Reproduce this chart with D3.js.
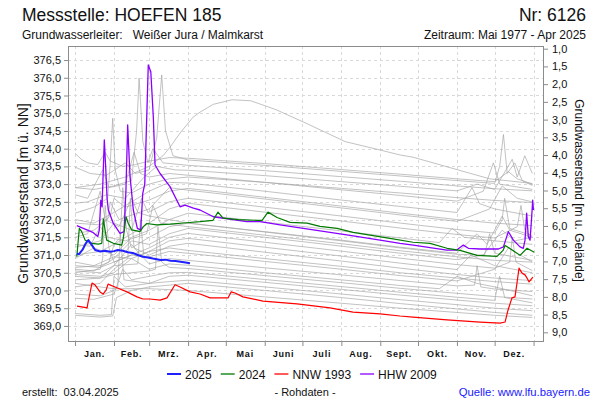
<!DOCTYPE html>
<html><head><meta charset="utf-8">
<script src="https://cdn.jsdelivr.net/npm/d3@7"></script>
<style>body{margin:0;background:#fff}svg{display:block;font-family:Arial,"Liberation Sans",sans-serif}</style>
</head><body><svg id="c" width="600" height="400"></svg>
<script>
// ---------- data ----------
const groundLevel = 377.82;
const monthStarts = [0,31,59,90,120,151,181,212,243,273,304,334,365];
const monthLabels = ["Jan.","Feb.","Mrz.","Apr.","Mai","Juni","Juli","Aug.","Sept.","Okt.","Nov.","Dez."];
const leftTicks = [369.0,369.5,370.0,370.5,371.0,371.5,372.0,372.5,373.0,373.5,374.0,374.5,375.0,375.5,376.0,376.5];
const rightTicks = [1.0,1.5,2.0,2.5,3.0,3.5,4.0,4.5,5.0,5.5,6.0,6.5,7.0,7.5,8.0,8.5,9.0];

const series2025 = [[1.5,371.05],[3,371.02],[6,371.15],[8.5,371.33],[10.6,371.42],[13,371.3],[16,371.14],[20,371.1],[24,371.12],[28,371.09],[31,371.11],[34,371.14],[38,371.12],[42,371.08],[46,371.06],[50,371.0],[54,370.95],[58,370.93],[62,370.9],[68,370.86],[72,370.87],[76,370.84],[80,370.83],[84,370.81],[88,370.79],[91.5,370.77]];

const series2024 = [[1.4,370.95],[3.4,371.75],[5.3,371.66],[8,371.42],[13.3,371.33],[18.5,371.31],[21.3,371.33],[22.5,372.02],[23.9,371.71],[25.2,371.42],[30.5,371.33],[37.2,371.28],[38.4,371.47],[40.6,372.08],[42.4,371.89],[45.1,371.71],[51.7,371.66],[54.4,371.8],[57.1,371.89],[65,371.85],[75.6,371.87],[88.9,371.91],[99.5,371.94],[109.8,371.98],[113.8,372.21],[117.8,372.04],[130,372.0],[144.9,371.98],[148.9,371.98],[153.6,372.21],[160.8,372.06],[171.2,371.92],[184.7,371.9],[195,371.81],[208.6,371.75],[221.3,371.64],[234.8,371.56],[250.7,371.47],[269,371.36],[282.6,371.33],[296.1,371.19],[306.5,371.13],[320,370.99],[335.9,370.96],[340.7,371.13],[342.3,371.27],[348.6,371.13],[354.2,370.99],[359.8,371.19],[365.5,371.08]];

const seriesNNW1993 = [[1.6,369.56],[6.4,369.53],[9.6,369.51],[10.3,369.65],[13.5,370.21],[15.9,370.16],[19.9,369.96],[22.3,369.9],[24.7,370.01],[26.3,370.18],[31.8,370.1],[41.4,369.96],[49.3,369.82],[54.1,369.76],[59.7,369.76],[67.7,369.73],[73.2,369.79],[79.6,370.16],[83.6,370.1],[91.5,369.96],[99.5,369.9],[107.5,369.79],[121.8,369.79],[124.2,369.96],[127.4,369.93],[133.7,369.82],[149.6,369.7],[176.7,369.62],[203,369.51],[221.3,369.39],[242.8,369.34],[258.7,369.28],[269,369.25],[296.1,369.17],[322.4,369.11],[338.3,369.08],[342.3,369.11],[344.7,369.45],[347.8,369.79],[350.2,369.82],[351.8,370.21],[353.4,370.63],[355.8,370.49],[358.2,370.44],[359.8,370.35],[361.4,370.24],[363.8,370.35],[364.5,370.38]];

const seriesHHW2009 = [[1.4,371.83],[6.6,371.75],[14.6,371.63],[18.1,371.52],[19.3,371.7],[20.5,372.55],[21.5,372.36],[23.3,374.25],[24.5,373.4],[25.5,372.6],[26.5,372.27],[30.5,371.89],[35.8,371.61],[39,371.66],[40.5,372.8],[41.9,374.67],[43.8,373.21],[46.4,372.27],[49.6,371.75],[52.3,371.71],[53.9,372.74],[55.5,373.0],[58.3,376.36],[60.3,376.17],[62.3,374.9],[63.7,373.54],[67.7,373.3],[75.6,372.93],[83.6,372.36],[87.6,372.41],[94.2,372.32],[99.5,372.27],[110.1,372.08],[136.7,371.94],[147.3,371.94],[163.2,371.85],[189.7,371.71],[216.3,371.57],[242.8,371.42],[258.7,371.33],[269.3,371.28],[295.9,371.14],[303.8,371.14],[309.1,371.28],[313.1,371.19],[322.4,371.17],[337,371.17],[341,371.23],[344.9,371.66],[348.9,371.42],[354.2,371.23],[356.8,371.19],[358.2,371.42],[359.5,372.18],[360.8,371.52],[362.2,371.42],[363.5,372.08],[364.3,372.55],[364.9,372.27]];

const historicYears = [
 [[0,372.9],[20,373.0],[40,373.2],[59,373.5],[70,373.8],[75.6,374.04],[83.6,374.44],[94,374.89],[99.5,375.03],[110,375.25],[125,375.38],[140,375.35],[160,375.1],[185,374.7],[215,374.2],[243,373.96],[259,373.82],[269,373.76],[300,373.45],[330,373.15],[364,373.02]],
 [[0,373.87],[5,373.7],[10,373.6],[18,373.55],[24,373.9],[28,373.65],[38,373.5],[48,373.55],[59,373.65],[75,373.75],[90,373.73],[151,373.58],[212,373.41],[259,373.28],[304,373.15],[334,373.07],[345,373.35],[352,373.15],[364,373.0]],
 [[0,373.48],[12,373.3],[25,373.25],[40,373.6],[48,373.3],[59,373.4],[65,374.3],[69,376.08],[72,374.5],[78,373.8],[90,373.68],[151,373.53],[212,373.36],[259,373.23],[304,373.1],[334,373.02],[338,373.5],[341,374.4],[344,373.3],[350,373.6],[356,373.1],[364,372.96]],
 [[0,372.9],[15,372.85],[31,372.95],[45,373.1],[49,374.5],[51,375.99],[54,374.2],[58,373.6],[62,374.0],[70,373.6],[90,373.53],[151,373.38],[212,373.21],[259,373.08],[304,372.95],[334,372.87],[364,372.81]],
 [[0,372.46],[10,372.5],[25,372.7],[40,372.6],[55,373.2],[65,373.5],[80,373.4],[90,373.39],[151,373.24],[212,373.07],[259,372.94],[304,372.81],[320,373.0],[334,372.85],[348,373.7],[352,373.2],[358,373.8],[364,373.3]],
 [[0,372.18],[15,372.35],[26,372.6],[28,373.6],[30,374.86],[32,373.4],[36,372.8],[45,372.75],[59,373.0],[75,373.15],[90,373.2],[151,373.05],[212,372.88],[259,372.75],[304,372.62],[334,372.54],[364,372.48]],
 [[0,372.0],[15,371.9],[31,372.2],[45,372.5],[59,372.8],[75,373.05],[90,373.03],[151,372.8],[212,372.55],[259,372.37],[304,372.2],[316,372.9],[322,372.45],[334,372.3],[364,372.1]],
 [[0,371.9],[20,371.85],[28,372.1],[31,372.6],[40,372.35],[59,372.55],[75,372.8],[90,372.88],[151,372.63],[212,372.38],[259,372.18],[304,372.0],[334,371.9],[364,371.83]],
 [[0,371.6],[15,371.7],[26,372.0],[28,372.5],[35,372.0],[59,372.3],[75,372.9],[90,372.83],[151,372.58],[212,372.33],[259,372.13],[304,371.95],[330,372.3],[340,372.95],[352,372.6],[364,372.5]],
 [[0,371.22],[20,371.4],[31,371.9],[45,371.7],[53,372.6],[58,372.2],[75,372.5],[90,372.6],[151,372.35],[212,372.1],[259,371.9],[304,371.72],[334,371.62],[340,372.0],[342,372.6],[346,371.75],[364,371.55]],
 [[0,371.0],[20,371.1],[31,371.3],[45,371.6],[59,371.9],[75,372.3],[90,372.46],[151,372.21],[212,371.96],[259,371.76],[304,371.58],[334,371.48],[352,371.8],[355,372.4],[358,371.7],[364,371.5]],
 [[0,370.9],[15,371.2],[31,371.0],[45,371.5],[59,371.7],[75,372.0],[90,372.18],[151,371.93],[212,371.68],[259,371.48],[290,371.35],[300,371.75],[310,371.5],[334,371.4],[364,371.3]],
 [[0,370.65],[20,370.7],[27,370.8],[31,371.3],[36,371.5],[38,372.9],[41,371.7],[45,371.2],[59,371.5],[75,371.8],[90,371.9],[151,371.65],[212,371.4],[259,371.2],[304,371.02],[326,371.0],[330,371.6],[334,371.05],[364,370.85]],
 [[0,370.6],[15,370.55],[31,370.9],[45,371.4],[59,371.3],[75,371.6],[90,371.75],[151,371.5],[212,371.25],[259,371.05],[304,370.87],[325,371.0],[340,371.7],[350,371.4],[364,371.5]],
 [[0,370.5],[20,370.6],[22,370.9],[24,372.4],[27,371.2],[31,370.8],[45,371.0],[59,371.2],[75,371.5],[90,371.61],[151,371.36],[212,371.11],[259,370.91],[304,370.73],[334,370.63],[346,370.8],[348,371.5],[351,370.8],[364,370.56]],
 [[0,370.3],[20,370.35],[31,370.7],[45,371.3],[52,371.0],[59,371.1],[75,371.4],[90,371.47],[151,371.22],[212,370.97],[259,370.77],[304,370.59],[315,371.0],[334,370.7],[364,370.5]],
 [[0,370.1],[20,370.2],[31,370.6],[42,370.9],[44,372.6],[47,371.2],[59,371.0],[75,371.25],[90,371.33],[151,371.08],[212,370.83],[259,370.63],[304,370.45],[334,370.35],[364,370.28]],
 [[0,370.8],[15,370.7],[31,370.95],[45,370.9],[59,371.1],[75,371.2],[90,371.13],[151,370.9],[212,370.68],[259,370.5],[304,370.35],[334,370.25],[364,370.18]],
 [[0,370.7],[20,370.65],[31,370.8],[45,371.0],[59,370.95],[75,371.1],[90,371.05],[151,370.82],[212,370.6],[259,370.42],[304,370.27],[334,370.6],[345,371.2],[364,370.8]],
 [[0,370.55],[20,370.5],[31,370.7],[50,370.75],[52,372.0],[55,370.9],[59,370.75],[75,370.9],[90,370.85],[151,370.64],[212,370.44],[259,370.28],[304,370.13],[318,370.15],[320,370.7],[323,370.1],[334,370.04],[364,369.97]],
 [[0,370.45],[20,370.4],[31,370.5],[45,370.9],[59,370.6],[75,370.75],[90,370.71],[151,370.5],[212,370.3],[259,370.14],[290,370.05],[304,370.4],[320,370.2],[334,370.1],[364,369.85]],
 [[0,370.4],[20,370.35],[31,370.45],[59,370.55],[64,370.6],[66,371.8],[69,370.8],[75,370.65],[90,370.62],[151,370.42],[212,370.22],[259,370.06],[304,369.92],[334,369.83],[364,369.76]],
 [[0,369.78],[15,369.75],[31,369.9],[38,370.6],[45,370.3],[59,370.4],[75,370.5],[90,370.51],[151,370.31],[212,370.11],[259,369.95],[304,369.81],[334,369.72],[338,370.4],[342,369.8],[364,369.65]],
 [[0,369.9],[20,369.85],[31,370.0],[34,370.1],[36,371.6],[39,370.3],[59,370.2],[75,370.4],[90,370.43],[151,370.23],[212,370.03],[259,369.87],[304,369.73],[334,369.64],[364,369.57]],
 [[0,369.35],[20,369.3],[29,369.32],[31,370.4],[40,370.1],[59,370.2],[75,370.25],[90,370.29],[151,370.1],[212,369.9],[259,369.74],[304,369.6],[334,369.5],[364,369.43]],
 [[0,369.3],[20,369.25],[30,369.28],[33,369.8],[45,370.0],[59,370.1],[75,370.15],[90,370.2],[151,370.0],[212,369.8],[259,369.63],[304,369.48],[334,369.38],[364,369.3]],
 [[0,370.2],[20,370.1],[31,370.05],[59,370.05],[90,370.0],[151,369.82],[212,369.64],[259,369.5],[304,369.38],[334,369.3],[364,369.24]],
 [[0,371.5],[10,371.6],[20,372.8],[24,372.0],[35,371.8],[45,372.6],[50,372.2],[59,372.1],[75,372.0],[90,371.9],[151,371.66],[212,371.42],[259,371.22],[304,371.05],[320,371.6],[328,371.3],[340,372.1],[346,371.7],[364,371.5]],
 [[0,372.7],[10,372.6],[22,373.4],[27,372.9],[40,373.0],[47,373.9],[52,373.3],[59,373.2],[75,373.3],[90,373.25],[151,373.05],[212,372.84],[259,372.68],[304,372.52],[325,372.8],[333,373.6],[338,373.0],[364,372.85]],
 [[0,371.3],[12,371.25],[20,371.8],[26,371.5],[40,371.4],[57,371.6],[62,372.4],[68,371.9],[90,371.8],[151,371.56],[212,371.32],[259,371.12],[304,370.95],[334,370.85],[364,370.8]]
];

const legendItems = [
 {label:"2025", color:"#1f1fff"},
 {label:"2024", color:"#007a00"},
 {label:"NNW 1993", color:"#ff0000"},
 {label:"HHW 2009", color:"#8a00ff"}
];

// ---------- chart ----------
const svg = d3.select("#c");
const L = 68, R = 543, T = 46, B = 341;
const x = d3.scaleLinear().domain([-5.6, 372.5]).range([L, R]);
const y = d3.scaleLinear().domain([368.575, 376.896]).range([B, T]);
const yR = d3.scaleLinear().domain([groundLevel - 368.575, groundLevel - 376.896]).range([B, T]);
const fmt = v => d3.format(".1f")(v).replace(".", ",");

// grid
const grid = svg.append("g").attr("stroke", "#d9d9d9").attr("stroke-dasharray", "3,3").attr("stroke-width", 1);
grid.selectAll("line.h").data(leftTicks).join("line")
  .attr("x1", L).attr("x2", R).attr("y1", d => Math.round(y(d)) + 0.5).attr("y2", d => Math.round(y(d)) + 0.5);
grid.selectAll("line.v").data(monthStarts).join("line")
  .attr("y1", T).attr("y2", B).attr("x1", d => Math.round(x(d)) + 0.5).attr("x2", d => Math.round(x(d)) + 0.5);

// lines
const line = d3.line().x(d => x(d[0])).y(d => y(d[1]));
const plot = svg.append("g");
plot.selectAll("path.g").data(historicYears).join("path")
  .attr("fill", "none").attr("stroke", "#a4a4a4").attr("stroke-opacity", 0.75).attr("stroke-width", 0.9)
  .attr("d", line);
const colored = [
  {d: seriesNNW1993, c: legendItems[2].color, w: 1.2},
  {d: seriesHHW2009, c: legendItems[3].color, w: 1.3},
  {d: series2024, c: legendItems[1].color, w: 1.2},
  {d: series2025, c: legendItems[0].color, w: 2}
];
plot.selectAll("path.c").data(colored).join("path")
  .attr("fill", "none").attr("stroke", d => d.c).attr("stroke-width", d => d.w)
  .attr("stroke-linejoin", "round").attr("d", d => line(d.d));

// frame
svg.append("rect").attr("x", L + 0.5).attr("y", T + 0.5).attr("width", R - L).attr("height", B - T)
  .attr("fill", "none").attr("stroke", "#8c8c8c");

// axes
const styleAxis = g => {
  g.select(".domain").remove();
  g.selectAll(".tick line").attr("stroke", "#8c8c8c");
  g.selectAll(".tick text").attr("fill", "#111").style("font-size", "11px").style("font-family", "Arial, 'Liberation Sans', sans-serif");
};
svg.append("g").attr("transform", `translate(${L},0)`)
  .call(d3.axisLeft(y).tickValues(leftTicks).tickSize(4).tickPadding(3).tickFormat(fmt)).call(styleAxis);
svg.append("g").attr("transform", `translate(${R + 1},0)`)
  .call(d3.axisRight(yR).tickValues(rightTicks).tickSize(4).tickPadding(4).tickFormat(fmt)).call(styleAxis);
svg.append("g").attr("transform", `translate(0,${B + 1})`)
  .call(d3.axisBottom(x).tickValues(monthStarts).tickSize(4).tickFormat("")).call(styleAxis);

svg.append("g").selectAll("text").data(monthLabels).join("text")
  .attr("x", (d, i) => x((monthStarts[i] + monthStarts[i + 1]) / 2))
  .attr("y", 357).attr("text-anchor", "middle")
  .style("font-size", "9px").style("font-weight", "bold").style("letter-spacing", "0.8px").attr("fill", "#111")
  .text(d => d);

// axis titles
svg.append("text").attr("transform", `translate(28,${(T + B) / 2}) rotate(-90)`).attr("text-anchor", "middle")
  .style("font-size", "14px").attr("fill", "#111").text("Grundwasserstand [m ü. NN]");
svg.append("text").attr("transform", `translate(575,${(T + B) / 2 - 3}) rotate(90)`).attr("text-anchor", "middle")
  .style("font-size", "12px").attr("fill", "#111").text("Grundwasserstand [m u. Gelände]");

// titles
svg.append("text").attr("x", 22).attr("y", 21).style("font-size", "17.5px").attr("fill", "#111").text("Messstelle: HOEFEN 185");
svg.append("text").attr("x", 586).attr("y", 21).attr("text-anchor", "end").style("font-size", "17.5px").attr("fill", "#111").text("Nr: 6126");
svg.append("text").attr("x", 22).attr("y", 39).style("font-size", "12px").attr("fill", "#111").attr("xml:space", "preserve").text("Grundwasserleiter:   Weißer Jura / Malmkarst");
svg.append("text").attr("x", 586).attr("y", 39).attr("text-anchor", "end").style("font-size", "12px").attr("fill", "#111").text("Zeitraum: Mai 1977 - Apr 2025");

// legend
let lx = 167;
const lg = svg.append("g");
legendItems.forEach(it => {
  lg.append("line").attr("x1", lx).attr("x2", lx + 14).attr("y1", 374).attr("y2", 374).attr("stroke", it.color).attr("stroke-width", it.label === "2025" ? 2 : 1.3);
  const t = lg.append("text").attr("x", lx + 18).attr("y", 378.5).style("font-size", "12px").attr("fill", "#111").text(it.label);
  lx += 18 + t.node().getComputedTextLength() + 9;
});

// footer
svg.append("text").attr("x", 22).attr("y", 396).style("font-size", "11px").attr("fill", "#111").attr("xml:space", "preserve").text("erstellt:  03.04.2025");
svg.append("text").attr("x", 305).attr("y", 396).attr("text-anchor", "middle").style("font-size", "11px").attr("fill", "#111").text("- Rohdaten -");
svg.append("text").attr("x", 590).attr("y", 396).attr("text-anchor", "end").style("font-size", "11.3px").attr("fill", "#1a1aff").text("Quelle: www.lfu.bayern.de");
</script>
</body></html>
